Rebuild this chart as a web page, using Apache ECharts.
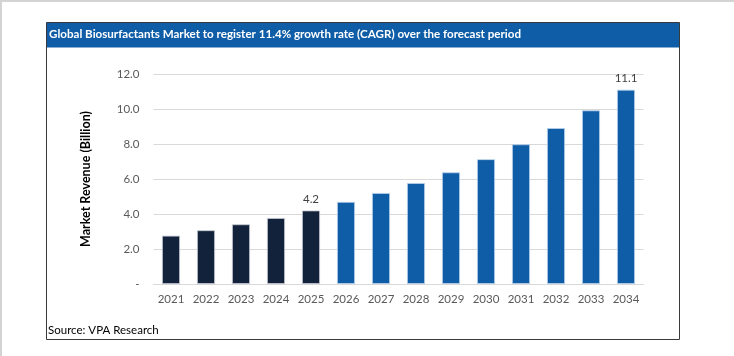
<!DOCTYPE html>
<html>
<head>
<meta charset="utf-8">
<script src="https://cdn.jsdelivr.net/npm/echarts@6/dist/echarts.min.js"></script>
<style>
html,body{margin:0;padding:0;background:#fff;}
#chart{width:734px;height:356px;}
</style>
</head>
<body>
<div id="chart"></div>
<script>
const years = ['2021','2022','2023','2024','2025','2026','2027','2028','2029','2030','2031','2032','2033','2034'];
const revenue = [2.76, 3.07, 3.41, 3.77, 4.2, 4.69, 5.2, 5.77, 6.38, 7.13, 7.98, 8.91, 9.92, 11.1];
const labeledYears = ['2025', '2034'];
const firstForecastYear = '2026';
const yTicks = [0, 2, 4, 6, 8, 10, 12];

const histColor = '#13223B';
const fcColor = '#0F5DA7';
const fcIndex = years.indexOf(firstForecastYear);

const chart = echarts.init(document.getElementById('chart'), null, {renderer: 'canvas'});
const font = 'Lato, "Open Sans", sans-serif';

chart.setOption({
  animation: false,
  backgroundColor: '#fff',
  grid: {left: 153.5, right: 90.5, top: 74, bottom: 72},
  graphic: [
    {type: 'rect', shape: {x: 0, y: 0, width: 734, height: 2}, style: {fill: '#d4d4d4'}, silent: true},
    {type: 'rect', shape: {x: 0, y: 0, width: 2, height: 356}, style: {fill: '#d4d4d4'}, silent: true},
    {type: 'rect', shape: {x: 46.5, y: 22.5, width: 633, height: 317}, style: {fill: 'none', stroke: '#3a3a3a', lineWidth: 1}, silent: true, z: 10},
    {type: 'rect', shape: {x: 46.5, y: 22.5, width: 633, height: 25}, style: {fill: '#0F5DA7'}, silent: true},
    {type: 'text', left: 49, top: 28, style: {text: 'Global Biosurfactants Market to register 11.4% growth rate (CAGR) over the forecast period', fill: '#fff', font: 'bold 11.6px ' + font}, silent: true},
    {type: 'text', left: 48, top: 324, style: {text: 'Source: VPA Research', fill: '#000', font: '11.5px ' + font}, silent: true}
  ],
  xAxis: {
    type: 'category',
    data: years,
    axisLine: {show: true, lineStyle: {color: '#d9d9d9'}},
    axisTick: {show: false},
    axisLabel: {color: '#595959', fontSize: 11.5, fontFamily: font, margin: 9}
  },
  yAxis: {
    type: 'value',
    min: yTicks[0],
    max: yTicks[yTicks.length - 1],
    interval: yTicks[1] - yTicks[0],
    name: 'Market Revenue (Billion)',
    nameLocation: 'middle',
    nameGap: 61,
    nameRotate: 90,
    nameTextStyle: {color: '#000', fontSize: 12.5, fontWeight: 'bold', fontFamily: font},
    axisLine: {show: false},
    axisTick: {show: false},
    splitLine: {lineStyle: {color: '#d9d9d9'}},
    axisLabel: {
      color: '#595959', fontSize: 11.5, fontFamily: font, margin: 14,
      formatter: v => v === 0 ? '-' : v.toFixed(1)
    }
  },
  series: [{
    type: 'bar',
    barWidth: 18,
    data: revenue.map((v, i) => ({
      value: v,
      itemStyle: {color: i < fcIndex ? histColor : fcColor, borderColor: i < fcIndex ? '#c8ccd4' : '#bcd3ec', borderWidth: 0.8},
      label: {show: labeledYears.includes(years[i])}
    })),
    label: {
      position: 'top', distance: 5, color: '#404040', fontSize: 11.5, fontFamily: font,
      formatter: p => p.value.toFixed(1)
    }
  }]
});
</script>
</body>
</html>
